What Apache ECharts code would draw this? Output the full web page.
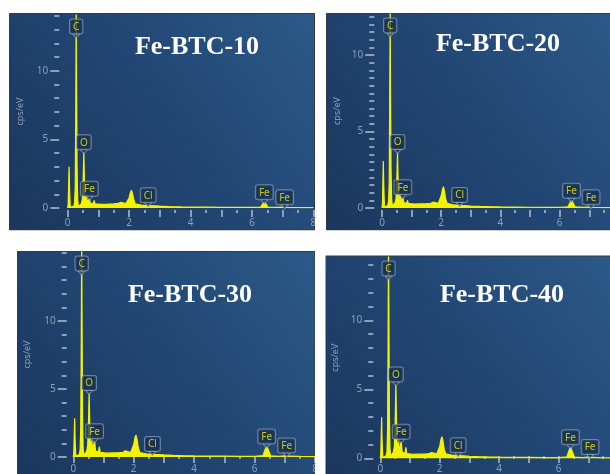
<!DOCTYPE html>
<html>
<head>
<meta charset="utf-8">
<script src="https://cdn.jsdelivr.net/npm/echarts@6/dist/echarts.min.js"></script>
<style>
html,body{margin:0;padding:0;background:#ffffff;}
#chart{width:610px;height:474px;}
</style>
</head>
<body>
<div id="chart"></div>
<script>
// ---------------- DATA ----------------
const titles = ['Fe-BTC-10', 'Fe-BTC-20', 'Fe-BTC-30', 'Fe-BTC-40'];
const yAxisName = 'cps/eV';

// EDS spectra: [energy keV, cps/eV]
const spectrum10 = [[0,0],[0.015,0.3],[0.03,1.6],[0.045,3.0],[0.06,1.4],[0.08,0.2],[0.11,0.05],[0.16,0.06],[0.2,0.15],[0.225,0.4],[0.245,1.5],[0.26,6.0],[0.27,11.0],[0.277,15.0],[0.29,9.0],[0.305,3.0],[0.325,0.6],[0.35,0.1],[0.4,0.1],[0.44,0.3],[0.475,0.6],[0.5,1.8],[0.525,4.1],[0.55,1.4],[0.57,0.5],[0.59,0.4],[0.615,0.9],[0.64,0.4],[0.675,0.4],[0.705,0.72],[0.735,0.35],[0.78,0.3],[0.83,0.3],[0.86,0.55],[0.89,0.3],[0.95,0.26],[1.1,0.27],[1.3,0.28],[1.5,0.3],[1.65,0.33],[1.72,0.42],[1.78,0.32],[1.9,0.32],[1.96,0.4],[2.0,0.75],[2.04,1.1],[2.075,1.3],[2.11,1.05],[2.15,0.6],[2.2,0.3],[2.4,0.22],[2.55,0.2],[2.62,0.24],[2.7,0.18],[3.0,0.14],[3.3,0.11],[3.7,0.08],[4.0,0.07],[4.5,0.06],[5.0,0.05],[5.5,0.04],[6.0,0.04],[6.28,0.07],[6.35,0.3],[6.4,0.46],[6.45,0.3],[6.52,0.07],[6.8,0.04],[7.0,0.06],[7.06,0.1],[7.12,0.05],[7.5,0.03],[8.0,0.03]];
const spectrum20 = [[0,0],[0.015,0.3],[0.03,1.7],[0.045,3.07],[0.06,1.4],[0.08,0.2],[0.11,0.05],[0.16,0.06],[0.2,0.2],[0.225,0.5],[0.245,1.8],[0.26,7.6],[0.27,10.5],[0.277,13.5],[0.29,7.0],[0.305,2.6],[0.325,0.6],[0.35,0.12],[0.4,0.12],[0.44,0.35],[0.475,0.6],[0.5,1.7],[0.525,3.7],[0.55,1.3],[0.57,0.5],[0.59,0.45],[0.615,0.95],[0.64,0.4],[0.675,0.42],[0.705,0.74],[0.735,0.35],[0.78,0.3],[0.83,0.3],[0.86,0.5],[0.89,0.3],[0.95,0.25],[1.1,0.26],[1.3,0.27],[1.5,0.28],[1.65,0.31],[1.72,0.38],[1.78,0.3],[1.9,0.3],[1.96,0.4],[2.0,0.8],[2.04,1.2],[2.075,1.4],[2.11,1.1],[2.15,0.6],[2.2,0.3],[2.4,0.21],[2.55,0.19],[2.62,0.23],[2.7,0.17],[3.0,0.13],[3.3,0.1],[3.7,0.08],[4.0,0.07],[4.5,0.06],[5.0,0.05],[5.5,0.04],[6.0,0.04],[6.28,0.08],[6.35,0.34],[6.4,0.52],[6.45,0.34],[6.52,0.08],[6.8,0.04],[7.0,0.06],[7.06,0.09],[7.12,0.05],[7.5,0.03],[8.0,0.03]];
const spectrum30 = [[0,0],[0.015,0.3],[0.03,1.5],[0.045,2.85],[0.06,1.3],[0.08,0.2],[0.11,0.05],[0.16,0.06],[0.2,0.2],[0.225,0.5],[0.245,2.0],[0.26,7.0],[0.27,12.0],[0.277,16.5],[0.29,10.0],[0.305,3.2],[0.325,0.7],[0.35,0.15],[0.4,0.15],[0.44,0.4],[0.475,0.8],[0.5,2.2],[0.525,4.75],[0.55,1.8],[0.57,0.7],[0.59,0.6],[0.615,1.2],[0.64,0.5],[0.675,0.55],[0.705,1.2],[0.735,0.45],[0.78,0.35],[0.83,0.35],[0.86,0.75],[0.89,0.35],[0.95,0.28],[1.1,0.28],[1.3,0.3],[1.5,0.32],[1.65,0.35],[1.72,0.45],[1.78,0.35],[1.9,0.33],[1.96,0.45],[2.0,0.9],[2.04,1.4],[2.075,1.62],[2.11,1.3],[2.15,0.7],[2.2,0.33],[2.4,0.24],[2.55,0.21],[2.62,0.26],[2.7,0.19],[3.0,0.15],[3.3,0.12],[3.7,0.09],[4.0,0.08],[4.5,0.07],[5.0,0.06],[5.5,0.05],[6.0,0.05],[6.28,0.1],[6.34,0.5],[6.4,0.82],[6.46,0.5],[6.53,0.09],[6.8,0.05],[7.0,0.08],[7.06,0.15],[7.12,0.07],[7.5,0.04],[8.0,0.03]];
const spectrum40 = [[0,0],[0.015,0.3],[0.03,1.6],[0.045,2.97],[0.06,1.4],[0.08,0.2],[0.11,0.05],[0.16,0.06],[0.2,0.2],[0.225,0.5],[0.245,2.1],[0.26,7.5],[0.27,12.5],[0.277,16.0],[0.29,10.5],[0.305,3.4],[0.325,0.7],[0.35,0.15],[0.4,0.15],[0.44,0.45],[0.475,0.9],[0.5,2.5],[0.525,5.4],[0.55,2.0],[0.57,0.7],[0.59,0.6],[0.615,1.2],[0.64,0.5],[0.675,0.55],[0.705,1.25],[0.735,0.45],[0.78,0.35],[0.83,0.35],[0.86,0.8],[0.89,0.35],[0.95,0.28],[1.1,0.28],[1.3,0.3],[1.5,0.31],[1.65,0.34],[1.72,0.42],[1.78,0.34],[1.9,0.32],[1.96,0.45],[2.0,0.85],[2.04,1.35],[2.075,1.57],[2.11,1.25],[2.15,0.65],[2.2,0.33],[2.4,0.24],[2.55,0.21],[2.62,0.26],[2.7,0.19],[3.0,0.15],[3.3,0.12],[3.7,0.09],[4.0,0.08],[4.5,0.07],[5.0,0.06],[5.5,0.05],[6.0,0.05],[6.28,0.1],[6.34,0.5],[6.4,0.85],[6.46,0.5],[6.53,0.09],[6.8,0.05],[7.0,0.08],[7.06,0.14],[7.12,0.07],[7.5,0.04],[8.0,0.03]];
const spectra = [spectrum10, spectrum20, spectrum30, spectrum40];

// peak markers
const peakNames = ['C', 'O', 'Fe', 'Cl', 'Fe', 'Fe'];
const peakEnergies = [0.277, 0.525, 0.705, 2.62, 6.40, 7.06];

// ticks
const xMajorTicks = [0, 1, 2, 3, 4, 5, 6, 7, 8];
const xMinorTicks = [0.5, 1.5, 2.5, 3.5, 4.5, 5.5, 6.5, 7.5];
const xTickLabels = [0, 2, 4, 6, 8];
const yTickLabels = [0, 5, 10];
const yMinorTicks10 = [1, 2, 3, 4, 6, 7, 8, 9, 11, 12, 13, 14];
const yMinorTicks20 = [0.5, 1, 1.5, 2, 2.5, 3, 3.5, 4, 4.5, 5.5, 6, 6.5, 7, 7.5, 8, 8.5, 9, 9.5, 10.5, 11, 11.5, 12, 12.5];
const yMinorTicks30 = [1, 2, 3, 4, 6, 7, 8, 9, 11, 12, 13, 14, 15];
const yMinorTicks40 = [1, 2, 3, 4, 6, 7, 8, 9, 11, 12, 13, 14];
const yMinorTicks = [yMinorTicks10, yMinorTicks20, yMinorTicks30, yMinorTicks40];

// ---------------- LAYOUT / STYLE ----------------
const layout = [
  {panel: [9.5, 13.5, 305, 216.5], left: 67.7, top: 15, width: 247.3, height: 193, xMax: 8.05, yMax: 14.06, yOffset: 8.4, nameGap: 34, title: [197, 47]},
  {panel: [326.5, 13.5, 290, 216.5], left: 382, top: 14, width: 228, height: 194, xMax: 7.7, yMax: 12.68, yOffset: 7.7, nameGap: 32, title: [498, 44]},
  {panel: [17.5, 251.5, 297.5, 230], left: 73.3, top: 252, width: 241.7, height: 205, xMax: 8.0, yMax: 15.07, yOffset: 6.6, nameGap: 35, title: [190, 295]},
  {panel: [325.5, 256, 290, 230], left: 380.3, top: 257, width: 229.7, height: 201.3, xMax: 7.73, yMax: 14.59, yOffset: 7, nameGap: 33, title: [502, 295]}
];

const axisColor = '#8d9fb9';
const specColor = '#f3f300';
const boxFill = 'rgba(24,46,76,0.92)';
const boxBorder = 'rgba(150,170,196,0.8)';
const tickFont = '"Noto Sans", sans-serif';

const grid = [], xAxis = [], yAxis = [], series = [], graphic = [];

function peakTop(spec, e) {
  let m = 0;
  spec.forEach(p => { if (Math.abs(p[0] - e) <= 0.021) m = Math.max(m, p[1]); });
  return m;
}
const hidden = {show: false};

layout.forEach((L, k) => {
  graphic.push({
    type: 'rect', z: -10, silent: true,
    shape: {x: L.panel[0], y: L.panel[1], width: L.panel[2], height: L.panel[3]},
    style: {
      fill: new echarts.graphic.LinearGradient(0, 1, 1, 0, [
        {offset: 0, color: '#1b365c'},
        {offset: 0.55, color: '#224775'},
        {offset: 1, color: '#2c5a88'}
      ]),
      stroke: '#333a44', lineWidth: 1
    }
  });
  graphic.push({
    type: 'text', z: 50, silent: true,
    style: {
      x: L.title[0], y: L.title[1], text: titles[k],
      font: 'bold 26px "Liberation Serif", "Times New Roman", serif',
      fill: '#ffffff', align: 'center', verticalAlign: 'middle',
      textAlign: 'center', textVerticalAlign: 'middle'
    }
  });

  // --- data grid
  const gData = grid.length;
  grid.push({left: L.left, top: L.top, width: L.width, height: L.height});
  const xi = xAxis.length;
  xAxis.push({type: 'value', gridIndex: gData, min: 0, max: L.xMax, show: false, splitLine: hidden});
  const yi = yAxis.length;
  yAxis.push({type: 'value', gridIndex: gData, min: 0, max: L.yMax, show: false, splitLine: hidden});

  // --- y-axis grid (shifted left so ticks sit apart from the plot)
  const gY = grid.length;
  grid.push({left: L.left - L.yOffset, top: L.top, width: L.width, height: L.height});
  xAxis.push({type: 'value', gridIndex: gY, min: 0, max: L.xMax, show: false, splitLine: hidden});
  yAxis.push({
    type: 'value', gridIndex: gY, min: 0, max: L.yMax, position: 'left',
    name: yAxisName, nameLocation: 'middle', nameRotate: 90, nameGap: L.nameGap,
    nameTextStyle: {color: axisColor, fontSize: 9, fontFamily: tickFont},
    axisLine: hidden, splitLine: hidden,
    axisTick: {show: true, length: 9, customValues: yTickLabels, lineStyle: {color: axisColor, width: 2}},
    axisLabel: {show: true, customValues: yTickLabels, color: axisColor, fontSize: 10, margin: 11, fontFamily: tickFont}
  });
  yAxis.push({
    type: 'value', gridIndex: gY, min: 0, max: L.yMax, position: 'left',
    axisLine: hidden, splitLine: hidden,
    axisTick: {show: true, length: 5, customValues: yMinorTicks[k], lineStyle: {color: axisColor, width: 2}},
    axisLabel: hidden
  });

  // --- x-axis grid (shifted down by 2px)
  const gX = grid.length;
  grid.push({left: L.left, top: L.top + 2, width: L.width, height: L.height});
  yAxis.push({type: 'value', gridIndex: gX, min: 0, max: L.yMax, show: false, splitLine: hidden});
  xAxis.push({
    type: 'value', gridIndex: gX, min: 0, max: L.xMax, position: 'bottom',
    axisLine: hidden, splitLine: hidden,
    axisTick: {show: true, length: 7, customValues: xMajorTicks, lineStyle: {color: axisColor, width: 2}},
    axisLabel: {show: true, customValues: xTickLabels, color: axisColor, fontSize: 10, margin: 8, fontFamily: tickFont}
  });
  xAxis.push({
    type: 'value', gridIndex: gX, min: 0, max: L.xMax, position: 'bottom',
    axisLine: hidden, splitLine: hidden,
    axisTick: {show: true, length: 3, customValues: xMinorTicks, lineStyle: {color: axisColor, width: 2}},
    axisLabel: hidden
  });

  const spec = spectra[k];
  series.push({
    type: 'line', name: titles[k], xAxisIndex: xi, yAxisIndex: yi,
    data: spec, showSymbol: false, symbol: 'none', silent: true, z: 3,
    lineStyle: {color: specColor, width: 1.2},
    areaStyle: {color: specColor, opacity: 1}
  });

  const cap = L.yMax - 21 * L.yMax / L.height;
  series.push({
    type: 'scatter', xAxisIndex: xi, yAxisIndex: yi, silent: true, z: 10,
    data: peakEnergies.map((e, i) => ({name: peakNames[i], value: [e, Math.min(peakTop(spec, e), cap)]})),
    symbol: 'path://M0,0L10,0L5,7Z', symbolSize: [7, 4], symbolOffset: [0, 0],
    itemStyle: {color: boxFill, borderColor: boxBorder, borderWidth: 1},
    label: {
      show: true, position: 'top', distance: 0, formatter: '{b}',
      color: '#ecec10', fontSize: 10, fontFamily: tickFont, lineHeight: 11,
      backgroundColor: boxFill, borderColor: boxBorder, borderWidth: 1, borderRadius: 2,
      padding: [2, 3, 1, 3]
    }
  });
});

// white gutters between panels (on top)
graphic.push({type: 'rect', z: 100, silent: true, shape: {x: 315, y: 0, width: 10.5, height: 474}, style: {fill: '#ffffff'}});
graphic.push({type: 'rect', z: 100, silent: true, shape: {x: 0, y: 230.5, width: 610, height: 20.5}, style: {fill: '#ffffff'}});

const chart = echarts.init(document.getElementById('chart'), null, {renderer: 'canvas'});
chart.setOption({
  animation: false,
  backgroundColor: '#ffffff',
  graphic: graphic,
  grid: grid,
  xAxis: xAxis,
  yAxis: yAxis,
  series: series
});
</script>
</body>
</html>
